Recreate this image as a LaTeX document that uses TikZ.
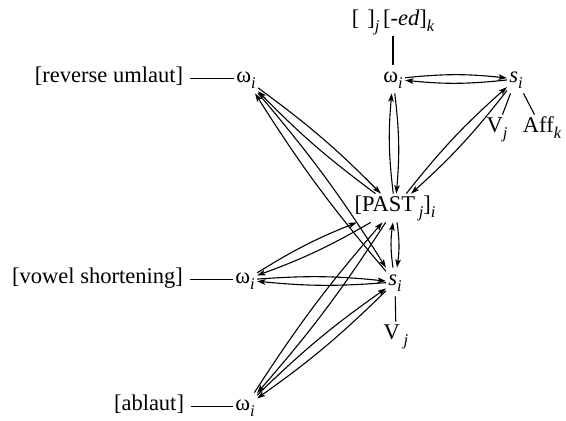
\documentclass[tikz,border=0pt]{standalone}
\usepackage{fontspec}
\setmainfont{Liberation Serif}
\usetikzlibrary{arrows.meta}
\newcommand{\sbi}[1]{\raisebox{-0.5ex}{\fontsize{8.2}{9}\selectfont\itshape #1}}
\newcommand{\bipair}[3]{\draw[arr] (#1) to[bend left=#3] (#2); \draw[arr] (#2) to[bend left=#3] (#1);}
\begin{document}
\begin{tikzpicture}[x=0.5pt,y=0.5pt,
  font=\fontsize{11.25}{13.5}\selectfont,
  every node/.style={anchor=base, text height=7pt, text depth=3pt, inner ysep=2pt, inner xsep=1pt},
  lab/.style={inner xsep=3.5pt},
  arr/.style={-{Stealth[length=4.2pt,width=2.8pt,inset=1pt]}, line width=0.55pt},
  ln/.style={line width=0.55pt}]
\useasboundingbox (0,0) rectangle (566,421);
% left column
\node[lab] (lab1) at (109,338) {[reverse umlaut]};
\node (om2) at (246,338) {ω\sbi{i}};
\node[lab] (lab3) at (97.5,137) {[vowel shortening]};
\node (om3) at (245,137) {ω\sbi{i}};
\node[lab] (lab4) at (149,10) {[ablaut]};
\node (om4) at (245,10) {ω\sbi{i}};
% right part
\node (toplab) at (393,395) {[\hspace{0.35em}]\sbi{j}\,[-\textit{ed}]\sbi{k}};
\node (om1) at (393,338) {ω\sbi{i}};
\node (s1) at (516,338) {\textit{s}\sbi{i}};
\node (V1) at (497,288) {V\sbi{j}};
\node (aff) at (542,288) {Aff\sbi{k}};
\node (past) at (395,209) {[PAST\,\sbi{j}]\sbi{i}};
\node (s2) at (395,135) {\textit{s}\sbi{i}};
\node (V2) at (396,81) {V\,\sbi{j}};
% plain lines
\draw[ln] (lab1.mid east) -- (om2.mid west);
\draw[ln] (lab3.mid east) -- (om3.mid west);
\draw[ln] (lab4.mid east) -- (om4.mid west);
\draw[ln] (toplab) -- (om1);
\draw[ln] (s1) -- (V1);
\draw[ln] (s1) -- (aff);
\draw[ln] (s2) -- (V2);
% arrows
\bipair{om1}{s1}{6}
\bipair{om1}{past}{6}
\bipair{past}{s1}{5}
\bipair{om2}{past}{4.5}
\bipair{om2}{s2}{4}
\bipair{om3}{past}{5}
\bipair{om3}{s2}{5}
\bipair{om4}{past}{4}
\bipair{om4}{s2}{4.5}
\bipair{past}{s2}{8}
\end{tikzpicture}
\end{document}
